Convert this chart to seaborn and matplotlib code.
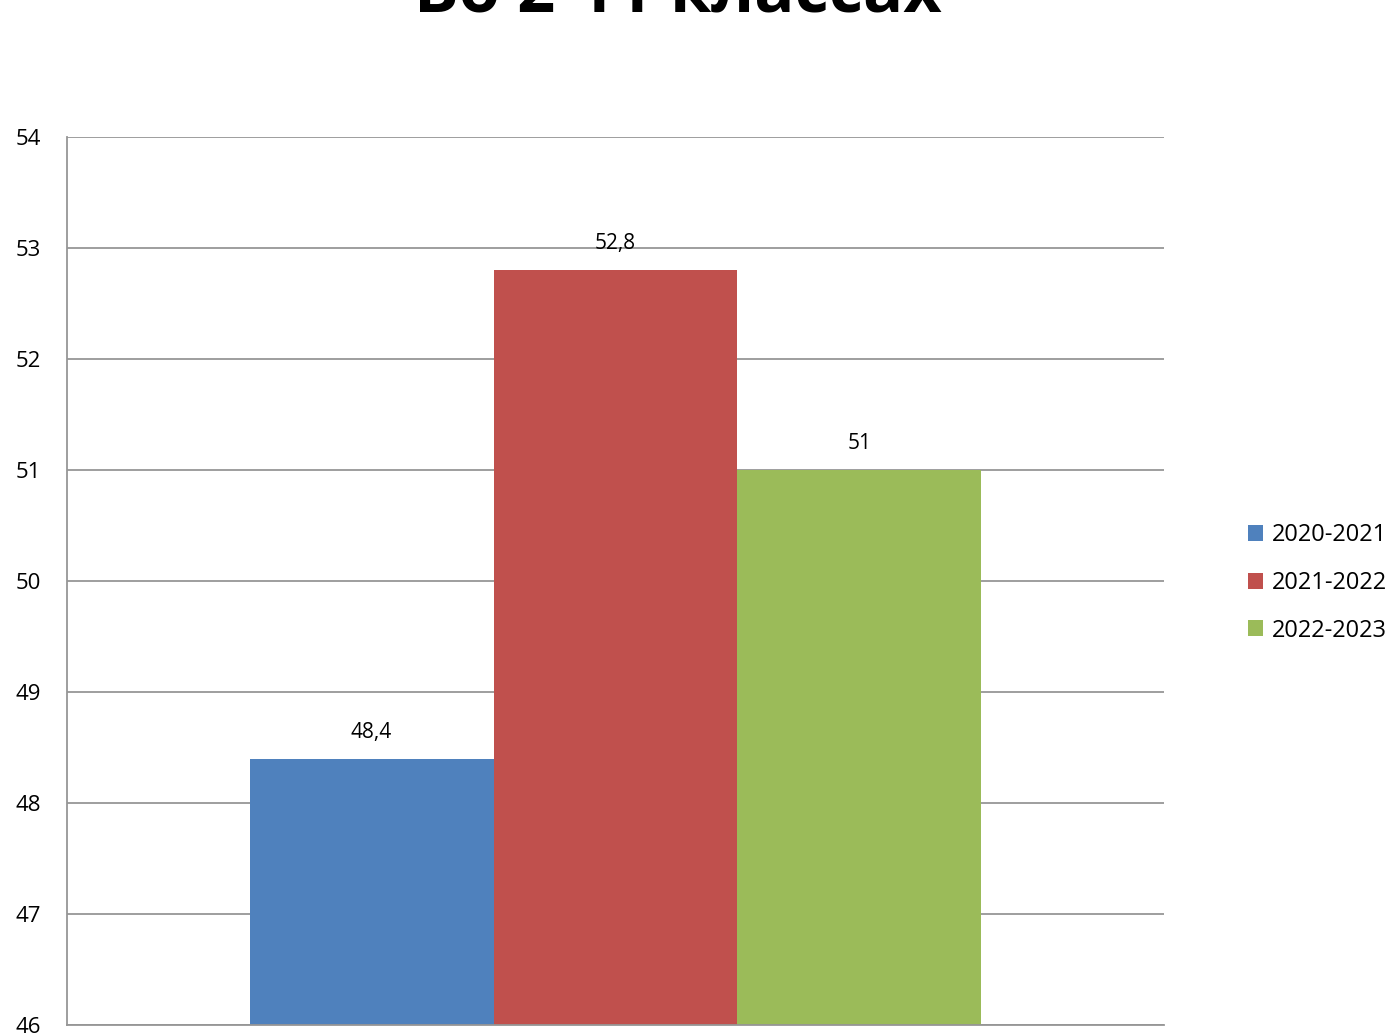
import pandas as pd
import numpy as np
import seaborn as sns
import matplotlib.pyplot as plt

# Chart data
years = ['2020-2021', '2021-2022', '2022-2023']
values = [48.4, 52.8, 51.0]
value_labels = ['48,4', '52,8', '51']
colors = ['#4F81BD', '#C0504D', '#9BBB59']
y_ticks = [46, 47, 48, 49, 50, 51, 52, 53, 54]

df = pd.DataFrame({'group': ['all'] * 3, 'year': years, 'value': values})

sns.set_style('white')
plt.rcParams['font.family'] = ['Open Sans', 'DejaVu Sans']
plt.rcParams['text.color'] = 'black'
plt.rcParams['ytick.color'] = 'black'

fig = plt.figure(figsize=(13.89, 10.36), dpi=100)
ax = fig.add_axes([67 / 1389, 1 - 1025 / 1036, (1164 - 67) / 1389, (1025 - 137) / 1036])

sns.barplot(data=df, x='group', y='value', hue='year', palette=colors,
            width=0.667, dodge=True, ax=ax, saturation=1, legend=True,
            edgecolor='none', linewidth=0)

# Bars start at the axis floor, not at zero
for patch in ax.patches:
    h = patch.get_height()
    if h > 0:
        patch.set_y(46)
        patch.set_height(h - 46)

ax.set_ylim(46, 54)
ax.set_xlim(-0.5, 0.5)
ax.set_yticks(y_ticks)
ax.set_yticklabels([str(t) for t in y_ticks], fontsize=16)
ax.set_xticks([-0.5, 0.5])
ax.set_xticklabels(['', ''])
ax.set_xlabel('')
ax.set_ylabel('')
ax.yaxis.grid(True, color='#969696', linewidth=1.3)
ax.set_axisbelow(True)
for side in ['top', 'right']:
    ax.spines[side].set_visible(False)
ax.spines['left'].set_color('#969696')
ax.spines['bottom'].set_color('#969696')
ax.spines['left'].set_linewidth(1.3)
ax.spines['bottom'].set_linewidth(1.3)
ax.tick_params(axis='y', length=7, color='#969696', labelcolor='black', pad=12)
ax.tick_params(axis='x', length=7, color='#969696')

# Value labels above bars
bars = [p for p in ax.patches if p.get_height() > 0]
bars = sorted(bars, key=lambda p: p.get_x())
for bar, lab in zip(bars, value_labels):
    ax.annotate(lab, (bar.get_x() + bar.get_width() / 2, bar.get_y() + bar.get_height()),
                xytext=(0, 19), textcoords='offset points', ha='center', va='center',
                fontsize=15, color='black')

handles, labels = ax.get_legend_handles_labels()
leg = ax.legend(handles, labels, loc='center left', frameon=False, fontsize=17,
                handlelength=0.65, handleheight=0.65, handletextpad=0.35, labelspacing=1.0,
                borderaxespad=0, borderpad=0)
leg.set_bbox_to_anchor((1248 / 1389, 1 - 583 / 1036), transform=fig.transFigure)
for t in leg.get_texts():
    t.set_color('black')

fig.text(0.488, 1 - 12 / 1036, 'Во 2-11 классах', ha='center', va='baseline',
         fontsize=48, fontweight='bold', color='black')

fig.savefig('out.png', dpi=100)
